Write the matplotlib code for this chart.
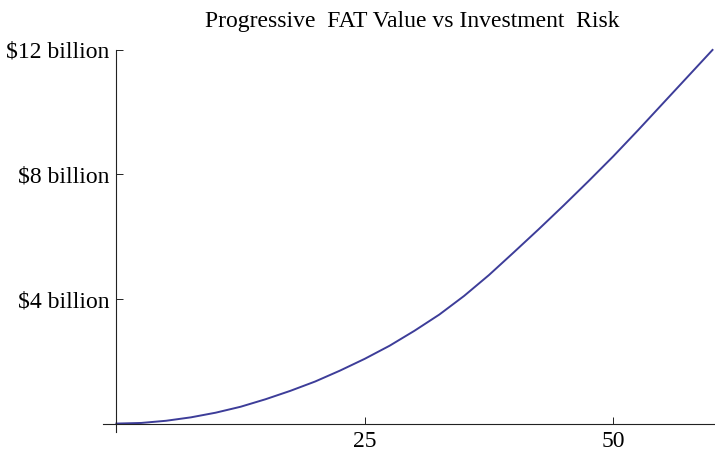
import matplotlib
matplotlib.use("Agg")
import matplotlib.pyplot as plt

# values (risk %, value in $ billions)
risk = [0, 2.5, 5, 7.5, 10, 12.5, 15, 17.5, 20, 22.5, 25, 27.5, 30,
        32.5, 35, 37.5, 40, 42.5, 45, 47.5, 50, 52.5, 55, 57.5, 60]
value_bn = [0, 0.02, 0.09, 0.20, 0.35, 0.54, 0.78, 1.05, 1.35, 1.70, 2.08,
            2.50, 2.98, 3.50, 4.10, 4.77, 5.50, 6.24, 7.00, 7.78, 8.58,
            9.42, 10.28, 11.14, 12.0]
x_ticks = [25, 50]
y_ticks = [4, 8, 12]
y_labels = [r"\$4 billion", r"\$8 billion", r"\$12 billion"]

plt.rcParams["font.family"] = ["Liberation Serif", "DejaVu Serif"]

fig = plt.figure(figsize=(7.15, 4.54), dpi=100, facecolor="white")
ax = fig.add_axes([0.144, 0.0485, 0.8546, 0.8415])

ax.plot(risk, value_bn, color="#3d3d99", linewidth=1.4, clip_on=False,
        solid_joinstyle="round")

ax.set_xlim(-1.35, 60.15)
ax.set_ylim(-0.27, 12.0)

# Mathematica style crossing axes
for side in ("top", "right"):
    ax.spines[side].set_visible(False)
ax.spines["left"].set_position(("data", 0))
ax.spines["bottom"].set_position(("data", 0))
for side in ("left", "bottom"):
    ax.spines[side].set_linewidth(0.8)
    ax.spines[side].set_color("#222222")

ax.set_xticks(x_ticks)
ax.set_xticklabels([str(t) for t in x_ticks])
ax.set_yticks(y_ticks)
ax.set_yticklabels(y_labels)
ax.tick_params(direction="in", length=5, width=0.7, colors="#222222",
               labelsize=17, labelcolor="black", pad=5)

fig.text(0.576, 0.952, "Progressive  FAT Value vs Investment  Risk",
         ha="center", va="center", fontsize=17)

fig.savefig("out.png", dpi=100, facecolor="white")
